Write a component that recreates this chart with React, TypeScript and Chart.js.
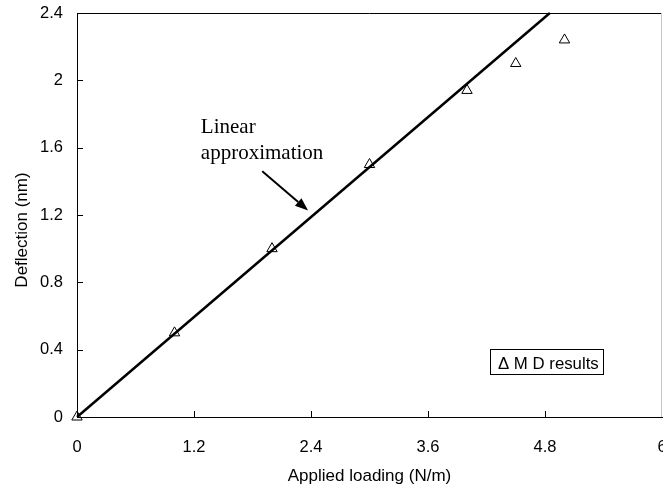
import { useEffect, useRef } from "react";
import { Chart, registerables } from "chart.js";

Chart.register(...registerables);

// Data
const loadings = [0, 1, 2, 3, 4, 4.5, 5];
const deflections = [0, 0.5, 1.0, 1.5, 1.94, 2.1, 2.24];
const fitLoadings = [0, 4.85];
const fitDeflections = [0, 2.4];
const xTickValues = [0, 1.2, 2.4, 3.6, 4.8, 6];
const yTickValues = [0, 0.4, 0.8, 1.2, 1.6, 2, 2.4];
const xTitle = "Applied loading (N/m)";
const yTitle = "Deflection (nm)";
const legendLabel = "\u0394 M D results";
const noteLines = ["Linear", "approximation"];

const SANS = "'Liberation Sans', Arial, sans-serif";
const SERIF = "'Liberation Serif', 'Times New Roman', serif";

const decorPlugin = {
  id: "decor",
  afterDraw(chart: any) {
    const { ctx, chartArea, scales } = chart;
    const xs = scales.x;
    const ys = scales.y;
    ctx.save();
    // top border (black) and right border (light grey)
    ctx.lineWidth = 1;
    ctx.strokeStyle = "#000";
    ctx.beginPath();
    ctx.moveTo(chartArea.left, Math.round(chartArea.top) + 0.5);
    ctx.lineTo(chartArea.right, Math.round(chartArea.top) + 0.5);
    ctx.stroke();
    ctx.strokeStyle = "#c8c8c8";
    ctx.beginPath();
    ctx.moveTo(Math.round(chartArea.right) - 0.5, chartArea.top);
    ctx.lineTo(Math.round(chartArea.right) - 0.5, chartArea.bottom);
    ctx.stroke();

    // inner tick marks
    ctx.strokeStyle = "#000";
    ctx.lineWidth = 1;
    yTickValues.forEach((v) => {
      if (v === 0 || v === 2.4) return;
      const py = Math.round(ys.getPixelForValue(v)) + 0.5;
      ctx.beginPath();
      ctx.moveTo(chartArea.left, py);
      ctx.lineTo(chartArea.left + 6, py);
      ctx.stroke();
    });
    xTickValues.forEach((v) => {
      if (v === 0 || v === 6) return;
      const px = Math.round(xs.getPixelForValue(v)) + 0.5;
      ctx.beginPath();
      ctx.moveTo(px, chartArea.bottom);
      ctx.lineTo(px, chartArea.bottom - 6);
      ctx.stroke();
    });

    // axis titles
    ctx.fillStyle = "#000";
    ctx.font = `17px ${SANS}`;
    ctx.textAlign = "center";
    ctx.textBaseline = "alphabetic";
    ctx.fillText(xTitle, (chartArea.left + chartArea.right) / 2, 481);
    ctx.save();
    ctx.translate(27, 230);
    ctx.rotate(-Math.PI / 2);
    ctx.fillText(yTitle, 0, 0);
    ctx.restore();

    // annotation text
    ctx.font = `21px ${SERIF}`;
    ctx.textAlign = "left";
    const tx = xs.getPixelForValue(1.27);
    const ty = ys.getPixelForValue(1.53);
    ctx.fillText(noteLines[0], tx, ty - 26);
    ctx.fillText(noteLines[1], tx, ty);

    // arrow
    const ax1 = xs.getPixelForValue(1.9);
    const ay1 = ys.getPixelForValue(1.46);
    const ax2 = xs.getPixelForValue(2.37);
    const ay2 = ys.getPixelForValue(1.227);
    const ang = Math.atan2(ay2 - ay1, ax2 - ax1);
    const headLen = 13;
    const headW = 5;
    const bx = ax2 - Math.cos(ang) * headLen;
    const by = ay2 - Math.sin(ang) * headLen;
    ctx.lineWidth = 2;
    ctx.beginPath();
    ctx.moveTo(ax1, ay1);
    ctx.lineTo(bx, by);
    ctx.stroke();
    ctx.beginPath();
    ctx.moveTo(ax2, ay2);
    ctx.lineTo(bx + Math.sin(ang) * headW, by - Math.cos(ang) * headW);
    ctx.lineTo(bx - Math.sin(ang) * headW, by + Math.cos(ang) * headW);
    ctx.closePath();
    ctx.fill();

    // legend box
    ctx.lineWidth = 1;
    ctx.fillStyle = "#fff";
    ctx.fillRect(490.5, 349.5, 113, 25);
    ctx.strokeRect(490.5, 349.5, 113, 25);
    ctx.fillStyle = "#000";
    ctx.font = `16.8px ${SANS}`;
    ctx.textAlign = "left";
    ctx.fillText(legendLabel, 498, 369);
    ctx.restore();
  },
};

export default function App() {
  const canvasRef = useRef<HTMLCanvasElement | null>(null);

  useEffect(() => {
    const canvas = canvasRef.current;
    if (!canvas) return;
    const chart = new Chart(canvas, {
      type: "scatter",
      data: {
        datasets: [
          {
            label: "MD results",
            data: loadings.map((x, i) => ({ x, y: deflections[i] })),
            pointStyle: "triangle",
            pointRadius: 6,
            pointBorderWidth: 1,
            borderColor: "#000",
            backgroundColor: "rgba(0,0,0,0)",
            showLine: false,
            clip: false,
            order: 0,
          },
          {
            label: "Linear approximation",
            data: fitLoadings.map((x, i) => ({ x, y: fitDeflections[i] })),
            showLine: true,
            borderColor: "#000",
            borderWidth: 2.5,
            pointRadius: 0,
            backgroundColor: "#000",
            clip: 2,
            order: 1,
          },
        ],
      },
      options: {
        responsive: false,
        animation: false,
        devicePixelRatio: 1,
        layout: { autoPadding: false, padding: { left: 0, top: 13, right: 1, bottom: 0 } },
        plugins: {
          legend: { display: false },
          tooltip: { enabled: false },
        },
        scales: {
          x: {
            type: "linear",
            min: 0,
            max: 6,
            afterBuildTicks: (scale: any) => {
              scale.ticks = xTickValues.map((value) => ({ value }));
            },
            afterFit: (scale: any) => {
              scale.height = 74;
              scale.paddingRight = 0;
              scale.paddingLeft = 0;
            },
            grid: { display: false, drawTicks: false, tickLength: 0 },
            border: { display: true, color: "#000", width: 1 },
            ticks: {
              color: "#000",
              padding: 21,
              maxRotation: 0,
              autoSkip: false,
              font: { family: SANS, size: 16.5 },
              callback: (v: any) => String(v),
            },
          },
          y: {
            type: "linear",
            min: 0,
            max: 2.4,
            afterBuildTicks: (scale: any) => {
              scale.ticks = yTickValues.map((value) => ({ value }));
            },
            afterFit: (scale: any) => {
              scale.width = 77;
              scale.paddingTop = 0;
              scale.paddingBottom = 0;
            },
            grid: { display: false, drawTicks: false, tickLength: 0 },
            border: { display: true, color: "#000", width: 1 },
            ticks: {
              color: "#000",
              padding: 14,
              autoSkip: false,
              font: { family: SANS, size: 16.5 },
              callback: (v: any) => String(v),
            },
          },
        },
      },
      plugins: [decorPlugin],
    } as any);
    return () => chart.destroy();
  }, []);

  return (
    <div style={{ position: "absolute", left: 0, top: 0, width: 663, height: 491, background: "#fff" }}>
      <canvas ref={canvasRef} width={663} height={491} />
    </div>
  );
}
